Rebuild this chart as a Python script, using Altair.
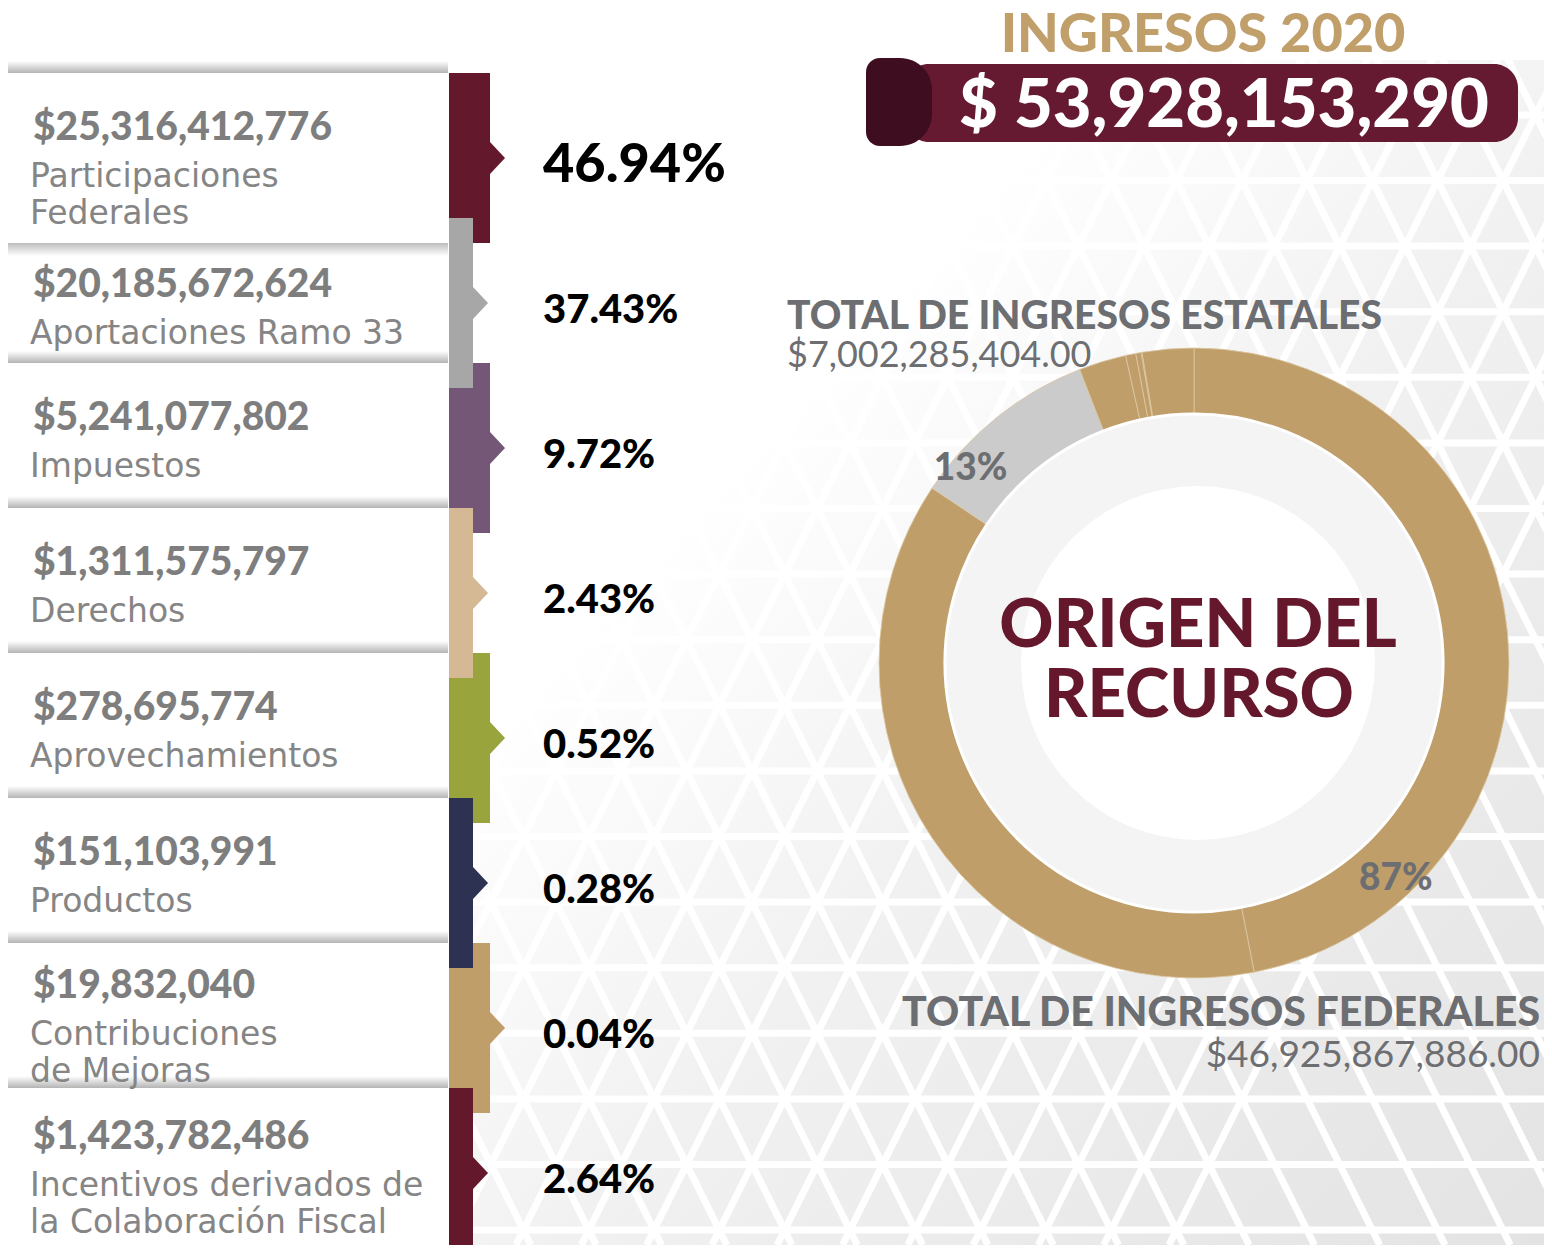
import math
import altair as alt
import pandas as pd

# ---------------- data ----------------
TITLE = "INGRESOS 2020"
TOTAL = "$ 53,928,153,290"
AMOUNTS = ["$25,316,412,776", "$20,185,672,624", "$5,241,077,802", "$1,311,575,797",
           "$278,695,774", "$151,103,991", "$19,832,040", "$1,423,782,486"]
LABELS = [["Participaciones", "Federales"], ["Aportaciones Ramo 33"], ["Impuestos"],
          ["Derechos"], ["Aprovechamientos"], ["Productos"],
          ["Contribuciones", "de Mejoras"], ["Incentivos derivados de", "la Colaboración Fiscal"]]
PERCENTS = [46.94, 37.43, 9.72, 2.43, 0.52, 0.28, 0.04, 2.64]
STATE_TITLE = "TOTAL DE INGRESOS ESTATALES"
STATE_TOTAL = "$7,002,285,404.00"
FED_TITLE = "TOTAL DE INGRESOS FEDERALES"
FED_TOTAL = "$46,925,867,886.00"
SHARE_LABELS = ["13%", "87%"]
CENTER_TEXT = ["ORIGEN DEL", "RECURSO"]

# ---------------- styles ----------------
STRIP_COLORS = ["#64182b", "#a7a7a7", "#745676", "#d4b994", "#99a43c", "#2d3152", "#bf9e6a", "#64182b"]
DONUT_COLORS = ["#bf9e6a", "#bf9e6a", "#cbcbcb", "#bf9e6a", "#bf9e6a", "#bf9e6a", "#bf9e6a", "#bf9e6a"]
GOLD = "#c19f6b"
WINE = "#661a32"
WINE_DARK = "#3e0d20"
GRAY_TXT = "#7e7e7e"
GRAY_HEAD = "#6d6e71"

# ---------------- layout ----------------
W, H = 1536, 1237
X0, X1, Y0, Y1 = 8, 1544, 8, 1245
CARD_L, CARD_R = 8, 448
STRIP_L, STRIP_WIDE, STRIP_NARROW = 449, 490, 473
ROW0, PITCH, HALF = 158, 145, 85
PCT_X = 543
DCX, DCY, R_OUT, R_IN = 1194, 663, 315, 248

xs = alt.Scale(domain=[X0, X1], nice=False, zero=False)
ys = alt.Scale(domain=[Y0, Y1], nice=False, zero=False, reverse=True)


def X(f="x"):
    return alt.X(f"{f}:Q", scale=xs, axis=None)


def Y(f="y"):
    return alt.Y(f"{f}:Q", scale=ys, axis=None)


centers = [ROW0 + PITCH * i for i in range(8)]
tops = [centers[0] - HALF, centers[0] + HALF] + [c - HALF for c in centers[2:]]
bottoms = tops[1:] + [Y1]

# ---------------- background pattern ----------------
bg_df = pd.DataFrame({"x": [STRIP_L], "x2": [X1], "y": [60], "y2": [Y1]})
bg_grad = alt.LinearGradient(
    gradient="linear", x1=0, y1=0, x2=1, y2=1,
    stops=[alt.GradientStop(color="#ffffff", offset=0),
           alt.GradientStop(color="#ffffff", offset=0.3),
           alt.GradientStop(color="#f1f1f1", offset=0.55),
           alt.GradientStop(color="#e3e3e3", offset=1)])
bg = alt.Chart(bg_df).mark_rect(color=bg_grad).encode(x=X(), x2="x2", y=Y(), y2="y2")

VSTEP, HSTEP, PY, PX = 65.6, 65.3, 180.5, 1307
slope = (HSTEP / 2) / VSTEP
segs = []
for k in range(-3, 18):
    yy = PY + VSTEP * k
    segs.append({"x": X0, "x2": X1, "y": yy, "y2": yy})
for m in range(-23, 7):
    xa = PX + HSTEP * m
    for s in (1, -1):
        segs.append({"x": xa + s * slope * (Y0 - PY), "y": Y0,
                     "x2": xa + s * slope * (Y1 - PY), "y2": Y1})
lines = alt.Chart(pd.DataFrame(segs)).mark_rule(color="white", strokeWidth=7, clip=True).encode(
    x=X(), x2="x2", y=Y(), y2="y2")

# ---------------- cards ----------------
cards_df = pd.DataFrame({"x": [CARD_L] * 8, "x2": [CARD_R] * 8, "y": tops, "y2": bottoms})
cards = alt.Chart(cards_df).mark_rect(color="white").encode(x=X(), x2="x2", y=Y(), y2="y2")

sh_above = alt.LinearGradient(gradient="linear", x1=0, y1=0, x2=0, y2=1,
                              stops=[alt.GradientStop(color="#ffffff", offset=0),
                                     alt.GradientStop(color="#b4b4b4", offset=1)])
sh_below = alt.LinearGradient(gradient="linear", x1=0, y1=0, x2=0, y2=1,
                              stops=[alt.GradientStop(color="#bdbdbd", offset=0),
                                     alt.GradientStop(color="#ffffff", offset=1)])
above_df = pd.DataFrame({"x": CARD_L, "x2": CARD_R,
                         "y": [tops[0] - 12] + [b - 12 for b in tops[2:]],
                         "y2": [tops[0]] + tops[2:]})
below_df = pd.DataFrame({"x": [CARD_L], "x2": [CARD_R], "y": [tops[1]], "y2": [tops[1] + 13]})
shadow_a = alt.Chart(above_df).mark_rect(color=sh_above).encode(x=X(), x2="x2", y=Y(), y2="y2")
shadow_b = alt.Chart(below_df).mark_rect(color=sh_below).encode(x=X(), x2="x2", y=Y(), y2="y2")

# ---------------- strips + arrows ----------------
strip_rows = []
for i, c in enumerate(centers):
    wide = i % 2 == 0
    strip_rows.append({"i": i, "wide": wide, "x": STRIP_L,
                       "x2": STRIP_WIDE if wide else STRIP_NARROW,
                       "y": c - HALF, "y2": min(c + HALF, Y1), "yc": c,
                       "color": STRIP_COLORS[i]})
strip_rows.sort(key=lambda r: (not r["wide"], r["i"]))
strips_df = pd.DataFrame(strip_rows)
strips = alt.Chart(strips_df).mark_rect().encode(
    x=X(), x2="x2", y=Y(), y2="y2", color=alt.Color("color:N", scale=None))
arrows = alt.Chart(strips_df).mark_point(
    shape="M0,-1L0.94,0L0,1Z", size=1024, filled=True, opacity=1, strokeWidth=0).encode(
    x=X("x2"), y=Y("yc"), color=alt.Color("color:N", scale=None))

# ---------------- card texts ----------------
amt_rows, lab_rows = [], []
for i in range(8):
    mid = (tops[i] + bottoms[i]) / 2
    n = len(LABELS[i])
    base = mid - 6 - 12 * (n - 1)
    amt_rows.append({"x": 33, "y": base, "t": AMOUNTS[i]})
    for k, line in enumerate(LABELS[i]):
        lab_rows.append({"x": 30, "y": base + 47 + 37 * k, "t": line})
amt_text = alt.Chart(pd.DataFrame(amt_rows)).mark_text(
    font="Lato", fontWeight=900, fontSize=39, color=GRAY_TXT, align="left", baseline="alphabetic").encode(
    x=X(), y=Y(), text="t:N")
lab_text = alt.Chart(pd.DataFrame(lab_rows)).mark_text(
    font="DejaVu Sans", fontSize=33, color="#858585", align="left", baseline="alphabetic").encode(
    x=X(), y=Y(), text="t:N")

pct_df = pd.DataFrame({"x": PCT_X, "y": [c + 8 for c in centers],
                       "t": [f"{p:.2f}%" for p in PERCENTS],
                       "big": [i == 0 for i in range(8)]})
pct_big = alt.Chart(pct_df[pct_df.big]).mark_text(
    font="Lato", fontWeight=900, fontSize=54, color="black", align="left", baseline="middle").encode(
    x=X(), y=Y(), text="t:N")
pct_small = alt.Chart(pct_df[~pct_df.big]).mark_text(
    font="Lato", fontWeight=900, fontSize=40, color="black", align="left", baseline="middle").encode(
    x=X(), y=Y(), text="t:N")

# ---------------- header ----------------
title = alt.Chart(pd.DataFrame({"x": [1203], "y": [52], "t": [TITLE]})).mark_text(
    font="Lato", fontWeight=900, fontSize=54, color=GOLD, align="center", baseline="alphabetic").encode(
    x=X(), y=Y(), text="t:N")
bar = alt.Chart(pd.DataFrame({"x": [905], "x2": [1518], "y": [64], "y2": [142]})).mark_rect(
    color=WINE, cornerRadius=24).encode(x=X(), x2="x2", y=Y(), y2="y2")
cap = alt.Chart(pd.DataFrame({"x": [866], "x2": [932], "y": [58], "y2": [146]})).mark_rect(
    color=WINE_DARK, cornerRadiusTopLeft=14, cornerRadiusBottomLeft=14,
    cornerRadiusTopRight=32, cornerRadiusBottomRight=32).encode(x=X(), x2="x2", y=Y(), y2="y2")
total = alt.Chart(pd.DataFrame({"x": [1224], "y": [127], "t": [TOTAL]})).mark_text(
    font="Lato", fontWeight=900, fontSize=67, color="white", align="center", baseline="alphabetic").encode(
    x=X(), y=Y(), text="t:N")

# ---------------- donut ----------------
donut_df = pd.DataFrame({"pct": PERCENTS, "idx": list(range(8)), "col": DONUT_COLORS,
                         "cx": DCX, "cy": DCY})
donut = alt.Chart(donut_df).mark_arc(
    outerRadius=R_OUT, innerRadius=R_IN, stroke="#dcc8a3", strokeWidth=0.8).encode(
    theta=alt.Theta("pct:Q", stack=True), order=alt.Order("idx:O"),
    color=alt.Color("col:N", scale=None), x=X("cx"), y=Y("cy"))
disc_df = pd.DataFrame({"cx": [DCX], "cy": [DCY]})
disc = alt.Chart(disc_df).mark_arc(
    theta=0, theta2=2 * math.pi, outerRadius=R_IN + 1, innerRadius=0,
    color="#f4f4f4", stroke="white", strokeWidth=3).encode(x=X("cx"), y=Y("cy"))
disc2 = alt.Chart(pd.DataFrame({"cx": [DCX + 4], "cy": [DCY]})).mark_arc(
    theta=0, theta2=2 * math.pi, outerRadius=177, innerRadius=0, color="white").encode(
    x=X("cx"), y=Y("cy"))

center_df = pd.DataFrame({"x": [1198, 1199], "y": [647, 717], "t": CENTER_TEXT})
center_txt = alt.Chart(center_df).mark_text(
    font="Lato", fontWeight=900, fontSize=67, color="#65172c", align="center", baseline="alphabetic").encode(
    x=X(), y=Y(), text="t:N")

ang = [311, 137]
share_df = pd.DataFrame({"x": [DCX + 296 * math.sin(math.radians(a)) for a in ang],
                         "y": [DCY - 296 * math.cos(math.radians(a)) for a in ang],
                         "t": SHARE_LABELS})
share_txt = alt.Chart(share_df).mark_text(
    font="Lato", fontWeight=900, fontSize=37, color=GRAY_HEAD, align="center", baseline="middle").encode(
    x=X(), y=Y(), text="t:N")

head_l = alt.Chart(pd.DataFrame({"x": [787], "y": [329], "t": [STATE_TITLE]})).mark_text(
    font="Lato", fontWeight=900, fontSize=39, color=GRAY_HEAD, align="left", baseline="alphabetic").encode(
    x=X(), y=Y(), text="t:N")
head_r = alt.Chart(pd.DataFrame({"x": [1540], "y": [1026], "t": [FED_TITLE]})).mark_text(
    font="Lato", fontWeight=900, fontSize=41, color=GRAY_HEAD, align="right", baseline="alphabetic").encode(
    x=X(), y=Y(), text="t:N")
sub_l = alt.Chart(pd.DataFrame({"x": [787], "y": [367], "t": [STATE_TOTAL]})).mark_text(
    font="Lato", fontSize=36, color=GRAY_HEAD, align="left", baseline="alphabetic").encode(
    x=X(), y=Y(), text="t:N")
sub_r = alt.Chart(pd.DataFrame({"x": [1540], "y": [1067], "t": [FED_TOTAL]})).mark_text(
    font="Lato", fontSize=37, color=GRAY_HEAD, align="right", baseline="alphabetic").encode(
    x=X(), y=Y(), text="t:N")

chart = alt.layer(
    bg, lines, cards, shadow_a, shadow_b, strips, arrows, amt_text, lab_text, pct_big, pct_small,
    title, bar, cap, total, donut, disc, disc2, center_txt, share_txt, head_l, head_r, sub_l, sub_r
).properties(width=W, height=H, padding=0, background="white").configure_view(stroke=None)

chart.save("out.html", embed_options={"renderer": "svg", "actions": False})
